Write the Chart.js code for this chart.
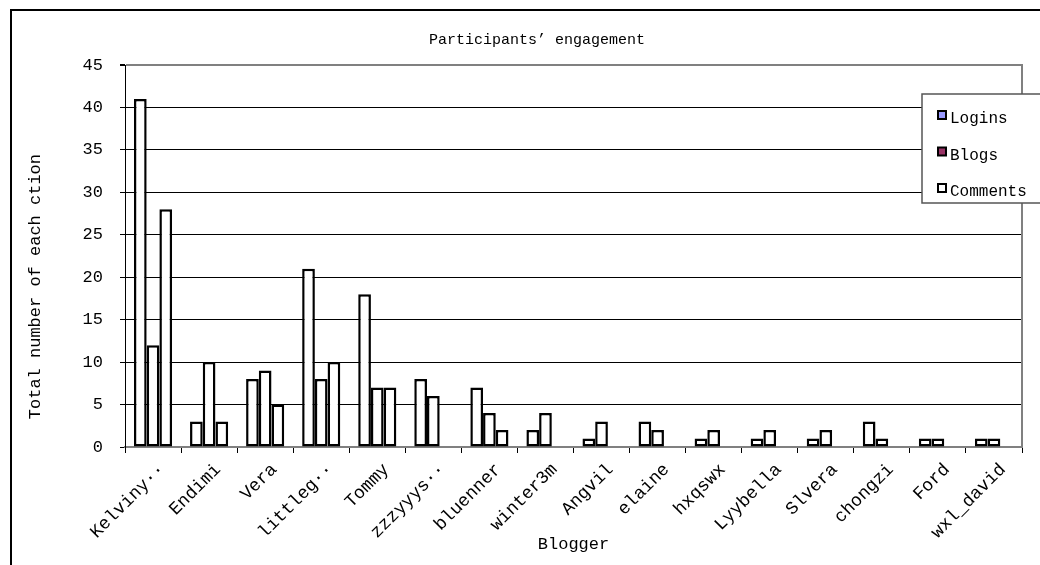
<!DOCTYPE html>
<html>
<head>
<meta charset="utf-8">
<script src="https://cdn.jsdelivr.net/npm/chart.js@4/dist/chart.umd.min.js"></script>
<style>
  html, body { margin: 0; padding: 0; background: #fff; }
  #wrap { width: 1040px; height: 565px; }
</style>
</head>
<body>
<div id="wrap"><canvas id="myChart" width="1040" height="565"></canvas></div>
<script>
// data
var bloggers = ['Kelviny··', 'Endimi', 'Vera', 'littleg··', 'Tommy', 'zzzyyys··', 'bluenner', 'winter3m',
    'Angvil', 'elaine', 'hxqswx', 'Lyybella', 'Slvera', 'chongzi', 'Ford', 'wxl_david'];
var logins = [41, 3, 8, 21, 18, 8, 7, 2, 1, 3, 1, 1, 1, 3, 1, 1];
var blogs = [12, 10, 9, 8, 7, 6, 4, 4, 3, 2, 2, 2, 2, 1, 1, 1];
var comments = [28, 3, 5, 10, 7, null, 2, null, null, null, null, null, null, null, null, null];
var yTicks = [0, 5, 10, 15, 20, 25, 30, 35, 40, 45];

var FONT = '"Liberation Mono", "DejaVu Sans Mono", monospace';

function barSet(label, values, swatch) {
    return {
        label: label,
        data: values,
        backgroundColor: '#ffffff',
        borderColor: '#000000',
        borderWidth: 2.5,
        borderSkipped: false,
        swatch: swatch // colour of the legend square
    };
}

// frame + white background
var framePlugin = {
    id: 'frame',
    beforeDraw: function (c) {
        var ctx = c.ctx;
        ctx.save();
        ctx.fillStyle = '#fff';
        ctx.fillRect(0, 0, c.width, c.height);
        ctx.strokeStyle = '#000';
        ctx.lineWidth = 2;
        ctx.strokeRect(11, 10, c.width + 20, c.height + 20);
        ctx.restore();
    },
    afterLayout: function (c) {
        // title sits a bit right of the canvas centre
        c.titleBlock.left += 40;
    },
    afterDatasetsDraw: function (c) {
        var a = c.chartArea, ctx = c.ctx;
        ctx.save();
        ctx.strokeStyle = '#808080';
        ctx.lineWidth = 2;
        ctx.beginPath();
        ctx.moveTo(a.right, a.top - 1);
        ctx.lineTo(a.right, a.bottom);
        ctx.stroke();
        ctx.restore();
    }
};

// boxed legend on the right, overlapping the plot
var boxLegend = {
    id: 'boxLegend',
    afterDraw: function (c) {
        var ctx = c.ctx;
        var x = 922, y = 94, w = 130, h = 109;
        ctx.save();
        ctx.fillStyle = '#fff';
        ctx.fillRect(x, y, w, h);
        ctx.strokeStyle = '#555';
        ctx.lineWidth = 1.5;
        ctx.strokeRect(x, y, w, h);
        ctx.font = '16px ' + FONT;
        ctx.textBaseline = 'middle';
        c.data.datasets.forEach(function (ds, i) {
            var cy = 117 + i * 36.5;
            ctx.fillStyle = ds.swatch;
            ctx.fillRect(938, cy - 6, 8, 8);
            ctx.strokeStyle = '#000';
            ctx.lineWidth = 2;
            ctx.strokeRect(938, cy - 6, 8, 8);
            ctx.fillStyle = '#000';
            ctx.fillText(ds.label, 950, cy + 2);
        });
        ctx.restore();
    }
};

var myCrt = document.getElementById('myChart');
var engagementChart = new Chart(myCrt, {
    type: 'bar',
    data: {
        labels: bloggers,
        datasets: [
            barSet('Logins', logins, '#9999ff'),
            barSet('Blogs', blogs, '#993366'),
            barSet('Comments', comments, '#ffffff')
        ]
    },
    plugins: [framePlugin, boxLegend],
    options: {
        responsive: false,
        animation: false,
        devicePixelRatio: 1,
        layout: { padding: { left: 12, right: 18, top: 0, bottom: 0 } },
        datasets: {
            bar: { categoryPercentage: 0.68, barPercentage: 1 }
        },
        plugins: {
            legend: { display: false },
            tooltip: { enabled: false },
            title: {
                display: true,
                text: 'Participants’ engagement',
                color: '#000',
                font: { family: FONT, size: 15, weight: 'normal' },
                padding: { top: 31, bottom: 16 }
            }
        },
        scales: {
            x: {
                grid: {
                    drawOnChartArea: false,
                    color: '#000',
                    tickColor: '#000',
                    tickLength: 6,
                    offset: true
                },
                border: { color: '#808080', width: 2 },
                ticks: {
                    color: '#000',
                    font: { family: FONT, size: 18 },
                    maxRotation: 45,
                    minRotation: 45,
                    autoSkip: false,
                    padding: 6,
                    labelOffset: 9
                },
                title: {
                    display: true,
                    text: 'Blogger',
                    color: '#000',
                    font: { family: FONT, size: 17 },
                    padding: { top: 0, bottom: 10 }
                },
                afterFit: function (s) { s.height = 118; }
            },
            y: {
                min: 0,
                max: 45,
                afterBuildTicks: function (s) {
                    s.ticks = yTicks.map(function (v) { return { value: v }; });
                },
                grid: {
                    color: function (ctx) { return ctx.tick && ctx.tick.value === 45 ? '#808080' : '#000'; },
                    lineWidth: function (ctx) { return ctx.tick && ctx.tick.value === 45 ? 2 : 1; },
                    tickColor: '#000',
                    tickLength: 5
                },
                border: { color: '#000', width: 1 },
                ticks: {
                    color: '#000',
                    font: { family: FONT, size: 17 },
                    padding: 17
                },
                title: {
                    display: true,
                    text: 'Total number of each ction      ',
                    color: '#000',
                    font: { family: FONT, size: 17 },
                    padding: { top: 13, bottom: 0 }
                },
                afterFit: function (s) { s.width = 113; }
            }
        }
    }
});
</script>
</body>
</html>
